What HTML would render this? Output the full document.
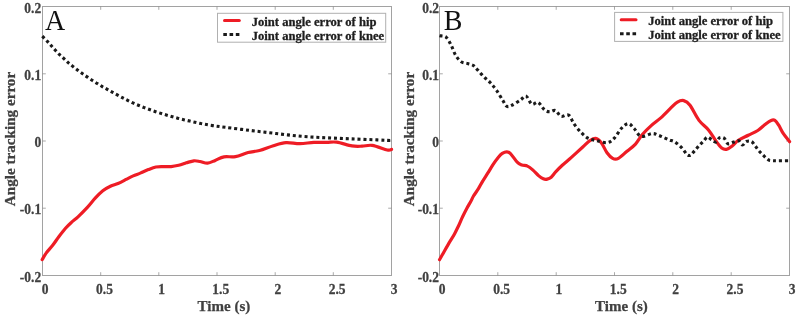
<!DOCTYPE html>
<html><head><meta charset="utf-8"><title>Angle tracking error</title>
<style>html,body{margin:0;padding:0;background:#fff}svg{display:block}text{font-family:"Liberation Serif","Times New Roman",serif}</style>
</head><body>
<svg width="799" height="316" viewBox="0 0 799 316">
<rect width="799" height="316" fill="#fff"/>
<rect x="42.5" y="6.5" width="349.0" height="269.0" fill="none" stroke="#a2a2a2" stroke-width="1"/><path d="M100.7 275.5v-3.3M100.7 6.5v3.3M158.8 275.5v-3.3M158.8 6.5v3.3M217.0 275.5v-3.3M217.0 6.5v3.3M275.2 275.5v-3.3M275.2 6.5v3.3M333.3 275.5v-3.3M333.3 6.5v3.3M42.5 73.8h3.3M391.5 73.8h-3.3M42.5 141.0h3.3M391.5 141.0h-3.3M42.5 208.2h3.3M391.5 208.2h-3.3" stroke="#858585" stroke-width="0.7" fill="none"/><text transform="translate(41.2 12.7) scale(1 1.07)" text-anchor="end" font-size="13.5" font-weight="bold" fill="#404040" stroke="#404040" stroke-width="0.25">0.2</text><text transform="translate(41.2 80.0) scale(1 1.07)" text-anchor="end" font-size="13.5" font-weight="bold" fill="#404040" stroke="#404040" stroke-width="0.25">0.1</text><text transform="translate(41.2 147.2) scale(1 1.07)" text-anchor="end" font-size="13.5" font-weight="bold" fill="#404040" stroke="#404040" stroke-width="0.25">0</text><text transform="translate(41.2 214.4) scale(1 1.07)" text-anchor="end" font-size="13.5" font-weight="bold" fill="#404040" stroke="#404040" stroke-width="0.25">-0.1</text><text transform="translate(41.2 281.7) scale(1 1.07)" text-anchor="end" font-size="13.5" font-weight="bold" fill="#404040" stroke="#404040" stroke-width="0.25">-0.2</text><text transform="translate(45.2 293.8) scale(1 1.07)" text-anchor="middle" font-size="13.5" font-weight="bold" fill="#404040" stroke="#404040" stroke-width="0.25">0</text><text transform="translate(104.5 293.8) scale(1 1.07)" text-anchor="middle" font-size="13.5" font-weight="bold" fill="#404040" stroke="#404040" stroke-width="0.25">0.5</text><text transform="translate(161.5 293.8) scale(1 1.07)" text-anchor="middle" font-size="13.5" font-weight="bold" fill="#404040" stroke="#404040" stroke-width="0.25">1</text><text transform="translate(220.8 293.8) scale(1 1.07)" text-anchor="middle" font-size="13.5" font-weight="bold" fill="#404040" stroke="#404040" stroke-width="0.25">1.5</text><text transform="translate(277.9 293.8) scale(1 1.07)" text-anchor="middle" font-size="13.5" font-weight="bold" fill="#404040" stroke="#404040" stroke-width="0.25">2</text><text transform="translate(337.1 293.8) scale(1 1.07)" text-anchor="middle" font-size="13.5" font-weight="bold" fill="#404040" stroke="#404040" stroke-width="0.25">2.5</text><text transform="translate(394.2 293.8) scale(1 1.07)" text-anchor="middle" font-size="13.5" font-weight="bold" fill="#404040" stroke="#404040" stroke-width="0.25">3</text><text x="223.9" y="310.5" text-anchor="middle" font-size="15" font-weight="bold" fill="#404040" stroke="#404040" stroke-width="0.25">Time (s)</text><text transform="translate(14.9 139) rotate(-90) scale(1.024 1)" text-anchor="middle" font-size="14.8" font-weight="bold" fill="#404040" stroke="#404040" stroke-width="0.25">Angle tracking error</text><path d="M42.2 259.6C42.9 258.5 44.5 255.3 46.3 252.9C48.0 250.5 50.6 248.0 52.7 245.3C54.8 242.6 56.9 239.3 59.0 236.5C61.1 233.7 63.2 230.9 65.3 228.5C67.4 226.1 69.5 224.1 71.6 222.2C73.7 220.2 75.3 219.3 78.0 216.8C80.7 214.3 84.7 210.2 87.6 207.1C90.5 204.0 92.7 200.9 95.2 198.2C97.7 195.5 100.3 192.8 102.8 190.8C105.3 188.8 107.9 187.5 110.4 186.3C112.9 185.1 115.5 184.6 118.0 183.5C120.5 182.4 123.1 181.0 125.6 179.7C128.1 178.4 130.7 177.0 133.2 175.9C135.7 174.8 138.3 174.0 140.8 172.9C143.3 171.8 145.9 170.6 148.4 169.6C150.9 168.6 153.4 167.5 155.9 167.0C158.4 166.5 161.0 166.7 163.5 166.6C166.0 166.5 168.6 166.8 171.1 166.6C173.6 166.4 176.2 165.9 178.7 165.3C181.2 164.7 183.8 163.6 186.3 162.8C188.8 162.1 191.6 161.0 193.9 160.8C196.2 160.6 197.7 161.1 200.0 161.5C202.3 161.9 205.1 163.4 207.6 163.2C210.1 163.0 212.5 161.5 215.2 160.4C217.9 159.3 220.6 157.4 224.0 156.8C227.4 156.2 231.4 157.3 235.4 156.6C239.4 155.9 244.1 153.5 248.1 152.5C252.1 151.5 255.3 151.6 259.5 150.5C263.7 149.4 269.0 147.0 273.4 145.7C277.8 144.4 281.6 143.0 286.0 142.7C290.4 142.4 295.4 143.8 300.0 143.7C304.6 143.6 309.5 142.6 313.9 142.4C318.3 142.2 322.8 142.4 326.6 142.4C330.4 142.4 332.5 141.6 336.7 142.2C340.9 142.8 347.7 145.2 351.9 145.9C356.1 146.6 358.6 146.3 362.0 146.2C365.4 146.1 368.0 144.8 372.2 145.4C376.4 146.0 384.1 149.3 387.3 150.0C390.5 150.7 390.9 149.5 391.6 149.4" fill="none" stroke="#ee1c25" stroke-width="3.2" stroke-linecap="round" stroke-linejoin="round"/><path d="M42.3 36.2C43.1 37.0 45.6 39.6 47.1 41.1C48.6 42.6 49.8 44.0 51.1 45.5C52.4 47.0 53.7 48.5 55.1 50.0C56.5 51.5 57.9 53.0 59.3 54.4C60.7 55.8 62.2 57.0 63.7 58.4C65.2 59.8 66.7 61.3 68.2 62.6C69.7 63.9 71.2 65.1 72.8 66.4C74.4 67.7 76.1 69.0 77.7 70.2C79.3 71.4 81.0 72.6 82.6 73.7C84.2 74.8 85.8 76.0 87.5 77.1C89.2 78.2 90.8 79.4 92.5 80.5C94.2 81.6 95.9 82.7 97.6 83.7C99.3 84.8 101.0 85.8 102.7 86.8C104.5 87.8 106.3 88.8 108.1 89.8C109.8 90.8 110.8 91.3 113.2 92.6C115.6 93.9 119.0 95.9 122.3 97.6C125.6 99.3 129.2 101.2 132.8 102.9C136.5 104.6 140.4 106.1 144.2 107.6C148.0 109.1 151.8 110.4 155.6 111.7C159.4 113.0 163.2 114.1 167.0 115.2C170.8 116.3 174.6 117.4 178.4 118.4C182.2 119.4 185.9 120.2 189.7 121.1C193.5 122.0 197.3 122.8 201.1 123.6C204.9 124.3 208.5 125.0 212.5 125.6C216.5 126.2 219.0 126.5 225.3 127.3C231.7 128.1 242.2 129.5 250.6 130.5C259.0 131.5 267.4 132.5 275.9 133.5C284.3 134.5 292.9 135.6 301.3 136.3C309.8 137.0 318.2 137.4 326.6 137.8C335.0 138.2 343.5 138.6 351.9 138.9C360.3 139.2 370.6 139.6 377.2 139.9C383.8 140.2 389.2 140.5 391.6 140.6" fill="none" stroke="#1a1a1a" stroke-width="3.1" stroke-dasharray="3 2.9" /><text transform="translate(45 30.1) scale(1 1.07)" font-size="28" fill="#111">A</text><rect x="217.5" y="13.3" width="168.2" height="28.9" fill="#fff" stroke="#b0b0b0" stroke-width="1"/><path d="M224.5 20.5H239.3" stroke="#ee1c25" stroke-width="3" stroke-linecap="round"/><path d="M223.3 34.5H239.5" stroke="#1a1a1a" stroke-width="3" stroke-dasharray="3.6 2.65"/><text x="251.7" y="25.7" font-size="12.6" font-weight="bold" fill="#1e1e1e" stroke="#1e1e1e" stroke-width="0.3">Joint angle error of hip</text><text x="251.7" y="39.8" font-size="12.6" font-weight="bold" fill="#1e1e1e" stroke="#1e1e1e" stroke-width="0.3">Joint angle error of knee</text><rect x="439.5" y="6.5" width="350.0" height="269.0" fill="none" stroke="#a2a2a2" stroke-width="1"/><path d="M497.8 275.5v-3.3M497.8 6.5v3.3M556.2 275.5v-3.3M556.2 6.5v3.3M614.5 275.5v-3.3M614.5 6.5v3.3M672.8 275.5v-3.3M672.8 6.5v3.3M731.2 275.5v-3.3M731.2 6.5v3.3M439.5 73.8h3.3M789.5 73.8h-3.3M439.5 141.0h3.3M789.5 141.0h-3.3M439.5 208.2h3.3M789.5 208.2h-3.3" stroke="#858585" stroke-width="0.7" fill="none"/><text transform="translate(439.0 12.7) scale(1 1.07)" text-anchor="end" font-size="13.5" font-weight="bold" fill="#404040" stroke="#404040" stroke-width="0.25">0.2</text><text transform="translate(439.0 80.0) scale(1 1.07)" text-anchor="end" font-size="13.5" font-weight="bold" fill="#404040" stroke="#404040" stroke-width="0.25">0.1</text><text transform="translate(439.0 147.2) scale(1 1.07)" text-anchor="end" font-size="13.5" font-weight="bold" fill="#404040" stroke="#404040" stroke-width="0.25">0</text><text transform="translate(439.0 214.4) scale(1 1.07)" text-anchor="end" font-size="13.5" font-weight="bold" fill="#404040" stroke="#404040" stroke-width="0.25">-0.1</text><text transform="translate(439.0 281.7) scale(1 1.07)" text-anchor="end" font-size="13.5" font-weight="bold" fill="#404040" stroke="#404040" stroke-width="0.25">-0.2</text><text transform="translate(442.2 293.8) scale(1 1.07)" text-anchor="middle" font-size="13.5" font-weight="bold" fill="#404040" stroke="#404040" stroke-width="0.25">0</text><text transform="translate(501.6 293.8) scale(1 1.07)" text-anchor="middle" font-size="13.5" font-weight="bold" fill="#404040" stroke="#404040" stroke-width="0.25">0.5</text><text transform="translate(558.9 293.8) scale(1 1.07)" text-anchor="middle" font-size="13.5" font-weight="bold" fill="#404040" stroke="#404040" stroke-width="0.25">1</text><text transform="translate(618.3 293.8) scale(1 1.07)" text-anchor="middle" font-size="13.5" font-weight="bold" fill="#404040" stroke="#404040" stroke-width="0.25">1.5</text><text transform="translate(675.5 293.8) scale(1 1.07)" text-anchor="middle" font-size="13.5" font-weight="bold" fill="#404040" stroke="#404040" stroke-width="0.25">2</text><text transform="translate(735.0 293.8) scale(1 1.07)" text-anchor="middle" font-size="13.5" font-weight="bold" fill="#404040" stroke="#404040" stroke-width="0.25">2.5</text><text transform="translate(792.2 293.8) scale(1 1.07)" text-anchor="middle" font-size="13.5" font-weight="bold" fill="#404040" stroke="#404040" stroke-width="0.25">3</text><text x="621.4" y="310.5" text-anchor="middle" font-size="15" font-weight="bold" fill="#404040" stroke="#404040" stroke-width="0.25">Time (s)</text><text transform="translate(413.5 139) rotate(-90) scale(1.024 1)" text-anchor="middle" font-size="14.8" font-weight="bold" fill="#404040" stroke="#404040" stroke-width="0.25">Angle tracking error</text><path d="M439.5 259.7C440.3 258.3 442.6 254.3 444.2 251.4C445.8 248.5 447.7 245.3 449.4 242.4C451.1 239.5 453.0 236.8 454.5 234.0C456.0 231.2 457.2 228.6 458.6 225.7C460.0 222.8 461.3 219.4 462.7 216.5C464.1 213.6 465.5 210.8 466.9 208.2C468.3 205.6 469.9 203.0 471.0 201.0C472.1 199.0 472.2 198.1 473.5 196.0C474.8 193.9 477.1 190.9 478.6 188.4C480.1 185.9 481.1 183.8 482.7 181.2C484.2 178.6 486.2 175.7 487.9 172.9C489.6 170.2 491.3 167.3 493.0 164.7C494.7 162.1 496.6 159.4 498.2 157.5C499.8 155.6 500.9 154.3 502.3 153.4C503.7 152.5 505.2 151.8 506.6 151.8C508.0 151.8 508.7 151.9 510.5 153.6C512.3 155.3 515.3 160.3 517.2 162.2C519.1 164.1 520.2 164.3 521.9 165.0C523.6 165.7 525.6 165.2 527.5 166.1C529.4 166.9 531.2 168.5 533.0 170.1C534.8 171.7 536.8 174.1 538.5 175.6C540.2 177.1 541.8 178.2 543.3 178.8C544.8 179.4 545.9 179.4 547.2 179.1C548.5 178.8 549.8 178.4 551.2 177.2C552.7 175.9 554.0 173.6 555.9 171.6C557.8 169.6 559.7 167.7 562.3 165.3C564.9 162.9 568.0 160.5 571.4 157.4C574.8 154.3 579.7 149.8 582.8 147.0C585.9 144.2 587.8 142.1 589.9 140.7C592.0 139.3 593.7 138.1 595.6 138.4C597.5 138.7 599.4 140.3 601.3 142.7C603.2 145.1 605.1 150.1 607.0 152.7C608.9 155.3 610.8 157.4 612.7 158.4C614.6 159.4 616.0 159.6 618.4 158.4C620.8 157.2 624.1 153.7 627.0 151.3C629.9 148.9 632.9 146.9 635.5 144.1C638.1 141.2 640.0 137.3 642.6 134.2C645.2 131.1 648.1 128.4 651.2 125.6C654.3 122.8 657.8 120.6 661.1 117.6C664.4 114.6 668.4 110.3 671.1 107.7C673.8 105.1 675.3 103.3 677.4 102.1C679.5 100.9 681.6 100.1 683.7 100.6C685.8 101.1 687.5 102.0 690.0 105.3C692.5 108.6 695.9 116.3 699.0 120.4C702.1 124.5 705.6 126.4 708.5 129.9C711.4 133.4 713.9 138.3 716.1 141.3C718.3 144.3 720.0 146.7 721.7 148.0C723.4 149.3 724.8 149.6 726.5 149.3C728.2 149.0 730.2 147.7 732.2 146.1C734.2 144.5 736.1 141.8 738.8 140.0C741.5 138.2 745.1 136.8 748.3 135.2C751.5 133.6 754.9 132.3 757.8 130.5C760.6 128.7 763.2 125.9 765.4 124.2C767.6 122.5 769.5 121.0 771.1 120.4C772.7 119.8 773.6 119.6 774.9 120.4C776.2 121.2 777.3 123.0 778.7 125.2C780.1 127.4 781.6 130.9 783.4 133.7C785.2 136.4 788.6 140.4 789.6 141.7" fill="none" stroke="#ee1c25" stroke-width="3.2" stroke-linecap="round" stroke-linejoin="round"/><path d="M439.5 35.7C440.6 36.0 444.2 35.6 446.1 37.2C448.1 38.8 449.6 42.3 451.2 45.3C452.8 48.3 454.0 52.6 455.7 55.4C457.4 58.1 459.3 60.4 461.3 61.8C463.3 63.1 465.6 62.9 467.6 63.5C469.6 64.1 471.8 64.5 473.5 65.6C475.2 66.7 476.0 68.2 477.8 70.1C479.6 72.0 482.0 74.9 484.1 77.0C486.2 79.1 488.3 80.6 490.4 82.8C492.5 85.0 494.4 87.4 496.5 90.3C498.6 93.2 501.1 97.8 502.8 100.4C504.5 103.1 505.1 105.4 506.6 106.2C508.1 107.0 509.3 106.5 511.6 105.4C513.9 104.4 518.1 101.5 520.5 99.9C522.9 98.4 524.2 95.4 526.1 96.1C528.0 96.8 529.9 103.2 531.9 104.2C533.9 105.2 536.1 101.4 538.2 102.4C540.3 103.4 542.7 108.4 544.6 110.0C546.5 111.6 547.8 111.7 549.6 111.8C551.4 111.9 553.5 109.8 555.4 110.5C557.3 111.2 558.8 115.5 561.0 116.3C563.2 117.1 566.4 113.8 568.6 115.1C570.8 116.4 572.1 121.3 574.2 124.2C576.3 127.1 579.0 130.3 581.4 132.7C583.8 135.1 585.9 137.1 588.5 138.4C591.1 139.7 593.9 140.0 597.0 140.7C600.1 141.4 604.1 143.1 607.0 142.7C609.9 142.3 611.7 140.8 614.1 138.4C616.5 136.0 618.9 131.0 621.3 128.5C623.7 126.0 626.3 123.6 628.4 123.6C630.5 123.6 632.0 126.4 634.1 128.5C636.2 130.6 638.2 135.6 641.2 136.4C644.2 137.2 649.3 133.8 652.1 133.6C654.9 133.4 655.9 134.4 657.8 135.0C659.7 135.6 661.6 136.6 663.5 137.4C665.4 138.2 667.4 139.2 669.2 139.9C671.0 140.6 672.8 140.9 674.5 141.8C676.2 142.8 678.0 144.2 679.5 145.6C681.0 146.9 682.4 148.5 683.5 149.9C684.6 151.3 685.5 152.9 686.3 153.8C687.1 154.7 687.6 155.1 688.2 155.3C688.9 155.6 689.6 155.6 690.2 155.3C690.8 155.1 691.2 154.7 692.0 153.8C692.8 152.9 694.0 151.4 695.2 150.1C696.4 148.8 697.7 147.1 699.0 145.7C700.3 144.3 701.6 143.2 703.0 141.8C704.4 140.4 705.9 137.5 707.3 137.1C708.7 136.7 710.1 138.8 711.5 139.6C712.9 140.4 714.5 142.4 715.9 142.1C717.3 141.8 718.3 138.3 719.7 137.7C721.1 137.1 722.8 137.3 724.2 138.3C725.6 139.3 726.4 143.1 728.0 143.7C729.6 144.3 731.9 142.6 733.7 142.1C735.5 141.6 737.2 140.3 738.7 140.8C740.2 141.3 741.2 144.9 742.5 145.0C743.8 145.1 744.8 142.1 746.3 141.5C747.8 140.9 749.9 140.8 751.4 141.5C752.9 142.2 753.9 144.3 755.2 145.9C756.5 147.5 757.6 149.3 759.0 150.9C760.4 152.5 761.9 153.9 763.4 155.4C764.9 156.9 766.6 158.8 768.2 159.7C769.8 160.6 769.4 160.5 773.0 160.7C776.6 160.9 786.8 160.7 789.6 160.7" fill="none" stroke="#1a1a1a" stroke-width="3.1" stroke-dasharray="3 2.9" /><text transform="translate(443.8 29.9) scale(1 1.07)" font-size="28" fill="#111">B</text><rect x="614.6" y="12.4" width="168.3" height="29.0" fill="#fff" stroke="#b0b0b0" stroke-width="1"/><path d="M621.2 19.8H636" stroke="#ee1c25" stroke-width="3" stroke-linecap="round"/><path d="M620.0 33.8H636.2" stroke="#1a1a1a" stroke-width="3" stroke-dasharray="3.6 2.65"/><text x="648.2" y="25" font-size="12.6" font-weight="bold" fill="#1e1e1e" stroke="#1e1e1e" stroke-width="0.3">Joint angle error of hip</text><text x="648.2" y="39.2" font-size="12.6" font-weight="bold" fill="#1e1e1e" stroke="#1e1e1e" stroke-width="0.3">Joint angle error of knee</text>
</svg>
</body></html>
